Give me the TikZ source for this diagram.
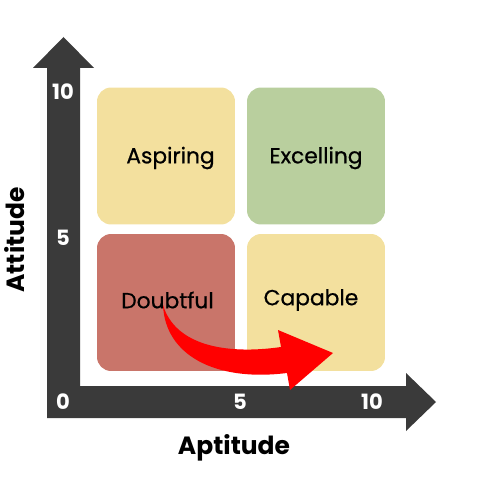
\documentclass[tikz,border=0pt]{standalone}
\usepackage{fontspec}
\setmainfont{Poppins}
\newfontfamily\medfont[FakeBold=0.6]{Poppins}
\definecolor{axisgray}{HTML}{3A3A3A}
\definecolor{qyellow}{HTML}{F3E09E}
\definecolor{qgreen}{HTML}{B9CF9E}
\definecolor{qred}{HTML}{C9756A}
\definecolor{arrowred}{HTML}{FF0000}
\begin{document}
\begin{tikzpicture}[x=0.02cm,y=-0.02cm,
  quad/.style={rounded corners=8pt,inner sep=0pt,minimum width=2.76cm,minimum height=2.74cm},
  qlabel/.style={font=\medfont\fontsize{12.4}{14}\selectfont,text=black},
  num/.style={font=\bfseries\fontsize{12}{13}\selectfont,text=white},
  axtitle/.style={font=\bfseries\fontsize{14.2}{16}\selectfont,text=black}]
\useasboundingbox (0,0) rectangle (500,500);
% axes
\fill[axisgray] (47,418) -- (47,68) -- (33,68) -- (63.5,37) -- (94,68) -- (80,68)
  -- (80,386) -- (406,386) -- (406,373) -- (436,402) -- (406,431) -- (406,418) -- cycle;
% quadrants
\node[quad,fill=qyellow] (asp) at (166,156) {};
\node[quad,fill=qgreen] (exc) at (316,156) {};
\node[quad,fill=qred] (dou) at (166,302.5) {};
\node[quad,fill=qyellow] (cap) at (316,302.5) {};
\node[qlabel] (tasp) at (170.5,158) {Aspiring};
\node[qlabel] (texc) at (316,158) {Excelling};
\node[qlabel] (tdou) at (167.5,300) {Doubtful};
\node[qlabel] (tcap) at (311,300) {Capable};
% red arrow
\coordinate (as) at (163,305);
\coordinate (at) at (333,353);
\fill[arrowred] (as) .. controls (165,355) and (215,382) .. (287,373)
  -- (290,390) -- (at) -- (278,330) -- (281,347)
  .. controls (225,355) and (175,345) .. (as) -- cycle;
% numbers
\node[num] (n10y) at (63,92) {10};
\node[num] (n5y) at (63,238) {5};
\node[num] (n0) at (63,402) {0};
\node[num] (n5x) at (240,402) {5};
\node[num] (n10x) at (372,402) {10};
% axis titles
\node[axtitle,rotate=90] (att) at (15,240) {Attitude};
\node[axtitle] (apt) at (234,448) {Aptitude};
\end{tikzpicture}
\end{document}
